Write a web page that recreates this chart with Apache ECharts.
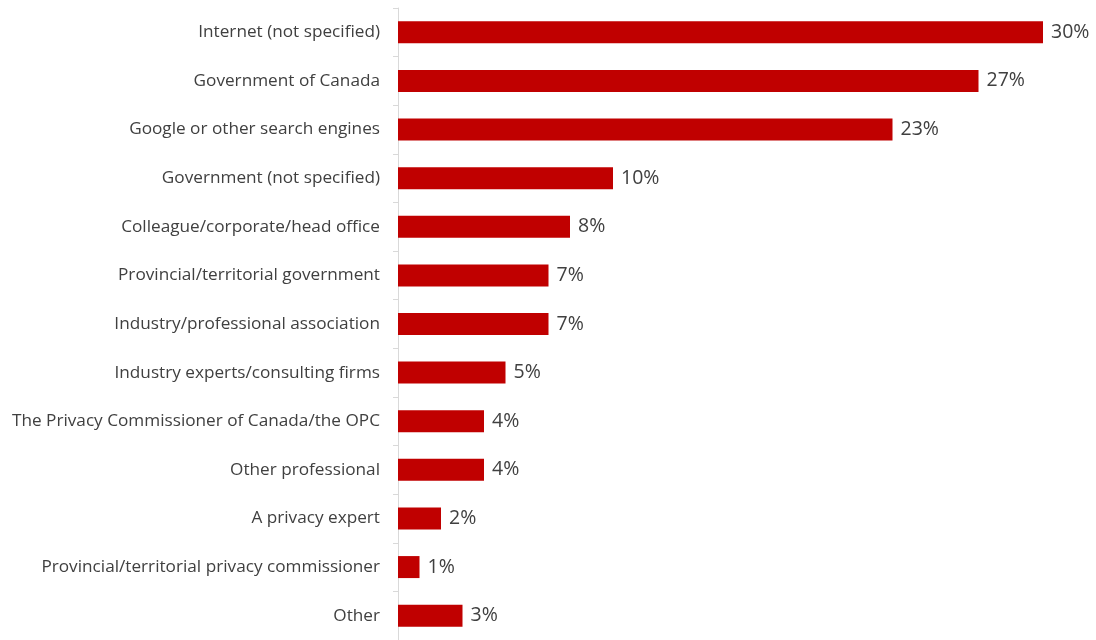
<!DOCTYPE html>
<html>
<head>
<meta charset="utf-8">
<script src="https://cdn.jsdelivr.net/npm/echarts@6/dist/echarts.min.js"></script>
<style>
  html, body { margin: 0; padding: 0; background: #fff; }
  #chart { width: 1096px; height: 640px; }
</style>
</head>
<body>
<div id="chart"></div>
<script>
// Sources of information, top to bottom
const categories = [
  'Internet (not specified)',
  'Government of Canada',
  'Google or other search engines',
  'Government (not specified)',
  'Colleague/corporate/head office',
  'Provincial/territorial government',
  'Industry/professional association',
  'Industry experts/consulting firms',
  'The Privacy Commissioner of Canada/the OPC',
  'Other professional',
  'A privacy expert',
  'Provincial/territorial privacy commissioner',
  'Other'
];
// Share of respondents (%)
const values = [30, 27, 23, 10, 8, 7, 7, 5, 4, 4, 2, 1, 3];

const chart = echarts.init(document.getElementById('chart'), null, { renderer: 'canvas' });
chart.setOption({
  animation: false,
  grid: { left: 398, right: 53, top: 8, height: 634, containLabel: false },
  xAxis: {
    type: 'value',
    min: 0,
    max: 30,
    show: false
  },
  yAxis: {
    type: 'category',
    inverse: true,
    data: categories,
    axisLine: { show: true, lineStyle: { color: '#d9d9d9', width: 1 } },
    axisTick: { show: true, length: 5, lineStyle: { color: '#d9d9d9' } },
    axisLabel: {
      margin: 18,
      color: '#404040',
      fontFamily: '"Open Sans", sans-serif',
      fontSize: 17.2
    }
  },
  series: [{
    type: 'bar',
    data: values,
    barWidth: 22,
    itemStyle: { color: '#c00000' },
    label: {
      show: true,
      position: 'right',
      distance: 8,
      formatter: '{c}%',
      color: '#404040',
      fontFamily: '"Open Sans", sans-serif',
      fontSize: 19.5
    }
  }]
});
</script>
</body>
</html>
